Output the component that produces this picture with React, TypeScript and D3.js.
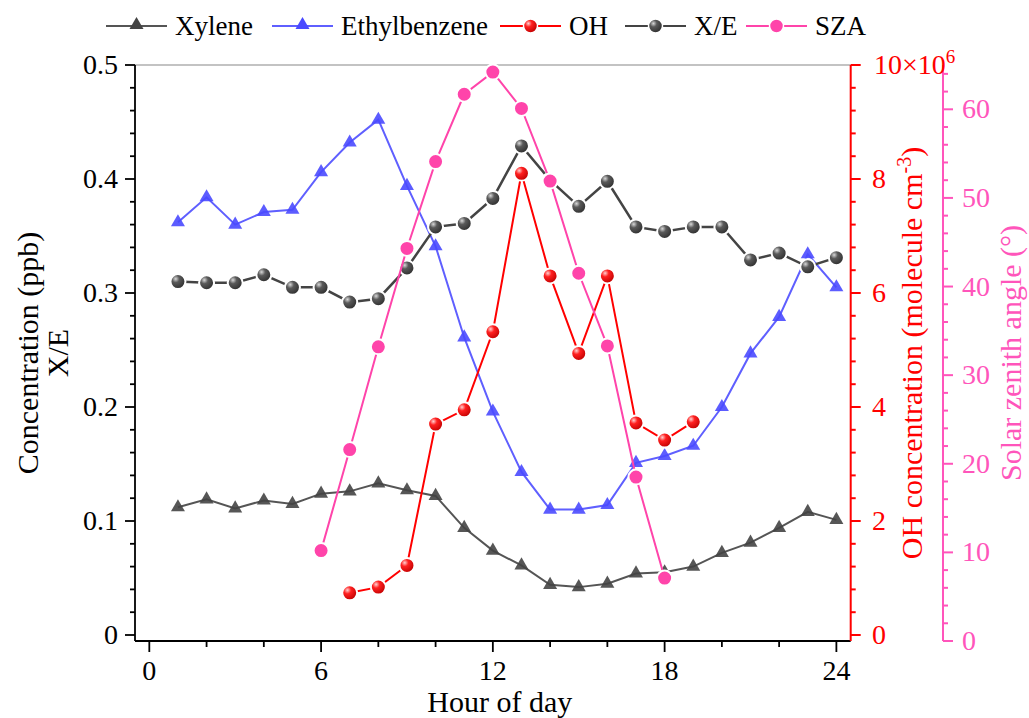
import React from "react";
import * as d3 from "d3";

const hours = [1, 2, 3, 4, 5, 6, 7, 8, 9, 10, 11, 12, 13, 14, 15, 16, 17, 18, 19, 20, 21, 22, 23, 24];
const xylene = [0.112, 0.119, 0.111, 0.118, 0.115, 0.124, 0.126, 0.133, 0.127, 0.122, 0.094, 0.074, 0.061, 0.044, 0.042, 0.045, 0.054, 0.055, 0.060, 0.072, 0.081, 0.094, 0.108, 0.101];
const ethylbenzene = [0.362, 0.384, 0.360, 0.371, 0.373, 0.406, 0.432, 0.452, 0.394, 0.341, 0.261, 0.196, 0.143, 0.110, 0.110, 0.114, 0.151, 0.157, 0.166, 0.200, 0.247, 0.279, 0.334, 0.305];
const xe = [0.310, 0.309, 0.309, 0.316, 0.305, 0.305, 0.292, 0.295, 0.322, 0.358, 0.361, 0.383, 0.429, 0.399, 0.376, 0.398, 0.358, 0.354, 0.358, 0.358, 0.329, 0.335, 0.323, 0.331];
const ohHours = [7, 8, 9, 10, 11, 12, 13, 14, 15, 16, 17, 18, 19];
const oh = [0.74e6, 0.84e6, 1.22e6, 3.70e6, 3.95e6, 5.32e6, 8.10e6, 6.30e6, 4.94e6, 6.30e6, 3.72e6, 3.42e6, 3.74e6];
const szaHours = [6, 7, 8, 9, 10, 11, 12, 13, 14, 15, 16, 17, 18];
const sza = [10.2, 21.6, 33.2, 44.3, 54.1, 61.7, 64.2, 60.1, 51.9, 41.5, 33.3, 18.5, 7.1];

const xTicks = [0, 6, 12, 18, 24];
const leftTicks = [0, 0.1, 0.2, 0.3, 0.4, 0.5];
const ohTicks = [0, 2e6, 4e6, 6e6, 8e6];
const szaTicks = [0, 10, 20, 30, 40, 50, 60];

const legendItems = [
  { name: "Xylene", kind: "tri", color: "#555555", fill: "#444444", x: 106 },
  { name: "Ethylbenzene", kind: "tri", color: "#5f5fff", fill: "#4a4aff", x: 272 },
  { name: "OH", kind: "ball", color: "#ff0000", fill: "url(#gRed)", x: 500 },
  { name: "X/E", kind: "ball", color: "#444444", fill: "url(#gGray)", x: 625 },
  { name: "SZA", kind: "dot", color: "#ff44aa", fill: "#ff44aa", x: 746 },
];

const FONT = "Liberation Serif, Tinos, Times New Roman, Times, DejaVu Serif, serif";

export default function App() {
  const L = 135, R = 850.7, T = 65, B = 641, PINK = 943;
  const x = d3.scaleLinear().domain([-0.5, 24.5]).range([L, R]);
  const y = d3.scaleLinear().domain([0, 0.5]).range([635, T]);
  const yOH = d3.scaleLinear().domain([0, 10e6]).range([635, T]);
  const ySZA = d3.scaleLinear().domain([0, 65]).range([B, T]);

  const lineL = d3.line<number>().x((_, i) => x(hours[i])).y((d) => y(d));
  const lineOH = d3.line<number>().x((_, i) => x(ohHours[i])).y((d) => yOH(d));
  const lineSZA = d3.line<number>().x((_, i) => x(szaHours[i])).y((d) => ySZA(d));
  const tri = d3.symbol().type(d3.symbolTriangle).size(85)()!;

  const leftMinor = d3.range(0, 0.5001, 0.02);
  const ohMinor = d3.range(0, 10.0001e6, 0.4e6);
  const szaMinor = d3.range(0, 65.001, 2);
  const xMinor = d3.range(0, 24.001, 2);

  const ts = { fontFamily: FONT } as React.CSSProperties;
  const mid = (T + B) / 2;

  return (
    <svg width={1029} height={718} style={{ position: "absolute", left: 0, top: 0, background: "#fff", fontFamily: FONT }}>
      <defs>
        <radialGradient id="gRed" cx="35%" cy="32%" r="70%">
          <stop offset="0%" stopColor="#ffd0d0" />
          <stop offset="35%" stopColor="#ff2020" />
          <stop offset="100%" stopColor="#c00000" />
        </radialGradient>
        <radialGradient id="gGray" cx="35%" cy="32%" r="70%">
          <stop offset="0%" stopColor="#d8d8d8" />
          <stop offset="35%" stopColor="#5a5a5a" />
          <stop offset="100%" stopColor="#2e2e2e" />
        </radialGradient>
      </defs>
      <rect x={0} y={0} width={1029} height={718} fill="#fff" />

      {/* frame */}
      <line x1={L} x2={R} y1={T} y2={T} stroke="#888" strokeWidth={1.2} />
      <line x1={L} x2={R} y1={B} y2={B} stroke="#000" strokeWidth={1.8} />
      <line x1={L} x2={L} y1={T} y2={B} stroke="#000" strokeWidth={1.8} />
      <line x1={R} x2={R} y1={T} y2={B} stroke="#ff0000" strokeWidth={2} />
      <line x1={PINK} x2={PINK} y1={T} y2={B} stroke="#ff55bb" strokeWidth={2} />

      {/* x axis ticks */}
      {xMinor.map((v) => (
        <line key={"xm" + v} x1={x(v)} x2={x(v)} y1={B} y2={B + (v % 6 === 0 ? 11 : 6)} stroke="#000" strokeWidth={1.8} />
      ))}
      {xTicks.map((v) => (
        <text key={"xt" + v} style={ts} x={x(v)} y={680} fontSize={28} textAnchor="middle">{v}</text>
      ))}
      <text style={ts} x={(L + R) / 2 + 7} y={712} fontSize={30} textAnchor="middle">Hour of day</text>

      {/* left axis */}
      {leftMinor.map((v, i) => (
        <line key={"lm" + i} x1={L} x2={L - (i % 5 === 0 ? 10 : 5)} y1={y(v)} y2={y(v)} stroke="#000" strokeWidth={1.8} />
      ))}
      {leftTicks.map((v) => (
        <text key={"lt" + v} style={ts} x={118} y={y(v) + 9} fontSize={28} textAnchor="end">{v === 0 ? "0" : v.toFixed(1)}</text>
      ))}
      <text style={ts} transform={`translate(38,${mid}) rotate(-90)`} fontSize={30} textAnchor="middle">Concentration (ppb)</text>
      <text style={ts} transform={`translate(68,${mid}) rotate(-90)`} fontSize={30} textAnchor="middle">X/E</text>

      {/* OH axis */}
      {ohMinor.map((v, i) => (
        <line key={"om" + i} x1={R} x2={R + (i % 5 === 0 ? 10 : 5)} y1={yOH(v)} y2={yOH(v)} stroke="#ff0000" strokeWidth={2} />
      ))}
      {ohTicks.map((v) => (
        <text key={"ot" + v} style={ts} x={872} y={yOH(v) + 9} fontSize={28} fill="#ff0000">{v / 1e6}</text>
      ))}
      <text style={ts} x={874} y={yOH(10e6) + 9} fontSize={28} fill="#ff0000">10×10<tspan dy={-11} fontSize={19}>6</tspan></text>
      <text style={ts} transform={`translate(922,${mid}) rotate(-90)`} fontSize={30} textAnchor="middle" fill="#ff0000">
        OH concentration (molecule cm<tspan dy={-11} fontSize={20}>-3</tspan><tspan dy={11}>)</tspan>
      </text>

      {/* SZA axis */}
      {szaMinor.map((v, i) => (
        <line key={"sm" + i} x1={PINK} x2={PINK + (i % 5 === 0 ? 10 : 5)} y1={ySZA(v)} y2={ySZA(v)} stroke="#ff55bb" strokeWidth={2} />
      ))}
      {szaTicks.map((v) => (
        <text key={"st" + v} style={ts} x={962} y={ySZA(v) + 9} fontSize={28} fill="#ff55bb">{v}</text>
      ))}
      <text style={ts} transform={`translate(1021,${mid}) rotate(-90)`} fontSize={30} textAnchor="middle" fill="#ff55bb">Solar zenith angle (°)</text>

      {/* Xylene */}
      <path d={lineL(xylene)!} fill="none" stroke="#555" strokeWidth={2} />
      {xylene.map((v, i) => (
        <path key={"xy" + i} d={tri} transform={`translate(${x(hours[i])},${y(v)})`} fill="#444" fillOpacity={0.9} />
      ))}
      {/* Ethylbenzene */}
      <path d={lineL(ethylbenzene)!} fill="none" stroke="#5f5fff" strokeWidth={2} />
      {ethylbenzene.map((v, i) => (
        <path key={"eb" + i} d={tri} transform={`translate(${x(hours[i])},${y(v)})`} fill="#4a4aff" fillOpacity={0.9} />
      ))}
      {/* X/E */}
      <path d={lineL(xe)!} fill="none" stroke="#444" strokeWidth={2.5} />
      {xe.map((v, i) => (
        <circle key={"xe" + i} cx={x(hours[i])} cy={y(v)} r={7.5} fill="url(#gGray)" stroke="#fff" strokeWidth={2} />
      ))}
      {/* OH */}
      <path d={lineOH(oh)!} fill="none" stroke="#ff0000" strokeWidth={2} />
      {oh.map((v, i) => (
        <circle key={"oh" + i} cx={x(ohHours[i])} cy={yOH(v)} r={7.5} fill="url(#gRed)" stroke="#fff" strokeWidth={2} />
      ))}
      {/* SZA */}
      <path d={lineSZA(sza)!} fill="none" stroke="#ff44aa" strokeWidth={2} />
      {sza.map((v, i) => (
        <circle key={"sz" + i} cx={x(szaHours[i])} cy={ySZA(v)} r={7.5} fill="#ff44aa" stroke="#fff" strokeWidth={2} />
      ))}

      {/* legend */}
      {legendItems.map((it) => (
        <g key={it.name}>
          <line x1={it.x} x2={it.x + 61} y1={26} y2={26} stroke={it.color} strokeWidth={2} />
          {it.kind === "tri" ? (
            <path d={tri} transform={`translate(${it.x + 30.5},25)`} fill={it.fill} />
          ) : (
            <circle cx={it.x + 30.5} cy={26} r={7} fill={it.fill} stroke="#fff" strokeWidth={1.5} />
          )}
          <text style={ts} x={it.x + 69} y={35} fontSize={27}>{it.name}</text>
        </g>
      ))}
    </svg>
  );
}
